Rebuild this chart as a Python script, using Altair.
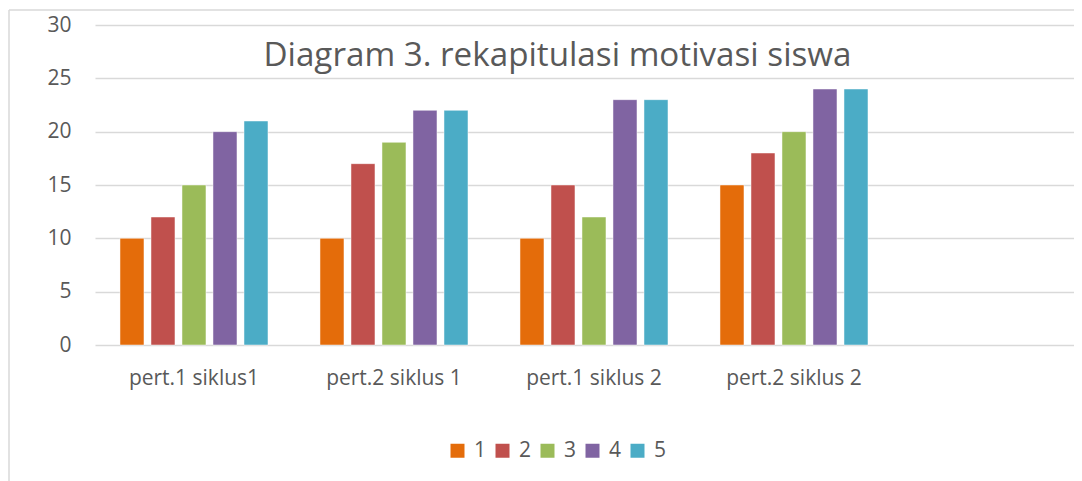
import altair as alt
import pandas as pd

categories = ["pert.1 siklus1", "pert.2 siklus 1", "pert.1 siklus 2", "pert.2 siklus 2"]
empty_slot = [" "]
series_names = ["1", "2", "3", "4", "5"]
series_1 = [10, 10, 10, 15]
series_2 = [12, 17, 15, 18]
series_3 = [15, 19, 12, 20]
series_4 = [20, 22, 23, 24]
series_5 = [21, 22, 23, 24]
colors = ["#E46C0A", "#C0504D", "#9BBB59", "#8064A2", "#4BACC6"]
y_ticks = [0, 5, 10, 15, 20, 25, 30]
title_text = "Diagram 3. rekapitulasi motivasi siswa"

all_series = [series_1, series_2, series_3, series_4, series_5]
rows = []
for name, vals in zip(series_names, all_series):
    for cat, v in zip(categories, vals):
        rows.append({"kategori": cat, "seri": name, "nilai": v})
df = pd.DataFrame(rows)

FONT = "Open Sans"
TXT = "#595959"
GRID = "#d9d9d9"

bars = alt.Chart(df).mark_bar(stroke="white", strokeWidth=0.8, strokeOpacity=0.6).encode(
    x=alt.X("kategori:N", sort=categories + empty_slot,
            scale=alt.Scale(domain=categories + empty_slot, paddingInner=0.26,
                            paddingOuter=0.0775, align=0.806),
            axis=alt.Axis(title=None, labelAngle=0, domain=False, ticks=False, labelPadding=22,
                          labelFontSize=21, labelColor=TXT, labelFont=FONT, grid=False)),
    xOffset=alt.XOffset("seri:N", sort=series_names,
                        scale=alt.Scale(paddingInner=0.226, paddingOuter=0)),
    y=alt.Y("nilai:Q", scale=alt.Scale(domain=[0, 30], nice=False),
            axis=alt.Axis(title=None, values=y_ticks, domain=False, ticks=False, labelPadding=24,
                          labelFontSize=21, labelColor=TXT, labelFont=FONT,
                          grid=True, gridColor=GRID, gridWidth=1.5)),
    color=alt.Color("seri:N", sort=series_names,
                    scale=alt.Scale(domain=series_names, range=colors),
                    legend=alt.Legend(title=None, orient="none", legendX=352, legendY=415,
                                      direction="horizontal", columns=5, columnPadding=5,
                                      symbolType="square", symbolSize=196, symbolStrokeWidth=0,
                                      labelFontSize=21, labelColor=TXT, labelFont=FONT,
                                      labelOffset=6)),
)

frame_data = alt.Data(values=[{"k": 0}])
frame_left = alt.Chart(frame_data).mark_rule(color=GRID, strokeWidth=1.5).encode(
    x=alt.value(-86), y=alt.value(-15), y2=alt.value(470))
frame_top = alt.Chart(frame_data).mark_rule(color=GRID, strokeWidth=1.5).encode(
    x=alt.value(-86), x2=alt.value(1000), y=alt.value(-15))

chart = alt.layer(frame_left, frame_top, bars).properties(
    width=979, height=320,
    autosize=alt.AutoSizeParams(type="none"),
    padding={"left": 87, "top": 17, "right": 0, "bottom": 136},
    title=alt.TitleParams(title_text, fontSize=33.2, color=TXT, font=FONT, fontWeight="normal",
                          anchor="middle", dx=-27, dy=64, offset=0),
).configure_view(stroke=None)

chart.save("out.html", embed_options={"renderer": "svg", "actions": False})
